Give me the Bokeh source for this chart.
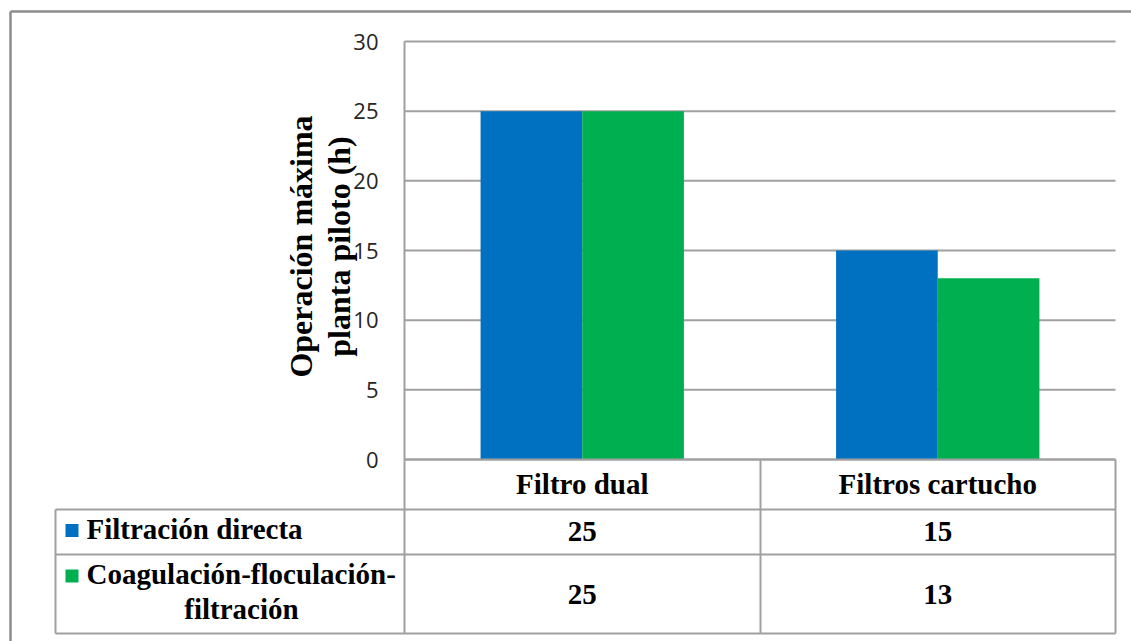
from math import pi
from bokeh.plotting import figure
from bokeh.models import Range1d, LinearAxis, FixedTicker
from bokeh.core.properties import value
from bokeh.embed import file_html
from bokeh.resources import INLINE

# ---------------- data ----------------
categories = ["Filtro dual", "Filtros cartucho"]
series_names = ["Filtración directa", "Coagulación-floculación-filtración"]
filtracion_directa = [25, 15]
coagulacion_floculacion_filtracion = [25, 13]
y_ticks = [0, 5, 10, 15, 20, 25, 30]
y_max = 30
series_colors = ["#0070C0", "#00B050"]
axis_title = ["Operación máxima", "planta piloto (h)"]

series_values = [filtracion_directa, coagulacion_floculacion_filtracion]

# ---------------- layout (page pixels) ----------------
W, H = 1131, 641
PX0, PX1 = 404, 1115          # plot area left/right
PY_TOP, PY_ZERO = 41, 459     # plot area top (y_max) and zero line
TBL_LEFT = 55
TBL_MID = 760
TBL_ROWS = [459, 509, 554, 633]
GRID_COLOR = "#a0a0a0"
SERIF = value("Liberation Serif")
SHIFT = 10                    # text anchor correction (px)

cat_w = (PX1 - PX0) / len(categories)
yscale = (PY_ZERO - PY_TOP) / y_max


def X(px):
    return (px - PX0) / cat_w


def Y(py):
    return (PY_ZERO - py) / yscale


p = figure(width=W, height=H, output_backend="svg", toolbar_location=None, tools="",
           x_range=Range1d(X(0), X(W)), y_range=Range1d(Y(H), Y(0)),
           x_axis_location=None, y_axis_location=None, min_border=0,
           outline_line_color=None, background_fill_color="white", border_fill_color="white")
p.grid.visible = False

# outer chart border (only top/left visible in the crop)
p.segment(x0=[X(10), X(10)], y0=[Y(11), Y(11)], x1=[X(1131), X(10)], y1=[Y(11), Y(641)],
          line_color="#8c8c8c", line_width=2.5)

# y axis at the left edge of the plot area
yax = LinearAxis(fixed_location=0, ticker=FixedTicker(ticks=y_ticks), bounds=(Y(TBL_ROWS[-1]), y_max),
                 axis_line_color=GRID_COLOR, axis_line_width=2,
                 major_tick_line_color=None, minor_tick_line_color=None,
                 major_tick_in=0, major_tick_out=0, major_label_standoff=26,
                 major_label_text_font="Open Sans", major_label_text_font_size="22px",
                 major_label_text_color="#262626")
p.add_layout(yax, "left")

# horizontal gridlines
ncat = len(categories)
p.segment(x0=[0] * len(y_ticks), x1=[ncat] * len(y_ticks), y0=y_ticks, y1=y_ticks,
          line_color=GRID_COLOR, line_width=2)

# bars
bar_w = 0.286
offsets = [-bar_w / 2, bar_w / 2]
for vals, off, col in zip(series_values, offsets, series_colors):
    xs = [i + 0.5 + off for i in range(ncat)]
    p.vbar(x=xs, top=vals, bottom=0, width=bar_w, fill_color=col, line_color=None)

# ---------------- data table ----------------
hx0 = [X(PX0)] + [X(TBL_LEFT)] * 3
hy = [Y(r) for r in TBL_ROWS]
p.segment(x0=hx0, x1=[ncat] * 4, y0=hy, y1=hy, line_color=GRID_COLOR, line_width=2)
p.segment(x0=[X(TBL_LEFT), X(TBL_MID), X(PX1)], x1=[X(TBL_LEFT), X(TBL_MID), X(PX1)],
          y0=[Y(TBL_ROWS[1]), Y(TBL_ROWS[0]), Y(TBL_ROWS[0])],
          y1=[Y(TBL_ROWS[-1])] * 3, line_color=GRID_COLOR, line_width=2)

txt = dict(text_font=SERIF, text_font_style="bold", text_font_size="29px", text_color="black")

# header row: categories
p.text(x=[i + 0.5 for i in range(ncat)], y=[Y(493 - SHIFT)] * ncat, text=categories,
       text_align="center", text_baseline="alphabetic", **txt)

# values
value_baselines = [Y(541 - SHIFT), Y(603.5 - SHIFT)]
for vals, yb in zip(series_values, value_baselines):
    p.text(x=[i + 0.5 for i in range(ncat)], y=[yb] * ncat, text=[str(v) for v in vals],
           text_align="center", text_baseline="alphabetic", **txt)

# legend keys
p.scatter(x=[X(71.5), X(71.5)], y=[Y(530), Y(575.5)], marker="square", size=13,
          fill_color=series_colors, line_color=None)

# row labels
p.text(x=[X(86)], y=[Y(538 - SHIFT)], text=[series_names[0]], text_align="left",
       text_baseline="alphabetic", **txt)
first, rest = series_names[1].rsplit("-", 1)
p.text(x=[X(86)], y=[Y(583 - SHIFT)], text=[first + "-"], text_align="left",
       text_baseline="alphabetic", **txt)
p.text(x=[X(241)], y=[Y(618 - SHIFT)], text=[rest], text_align="center",
       text_baseline="alphabetic", **txt)

# y axis title (two lines, rotated)
p.text(x=[X(312 - 12), X(350 - 12)], y=[Y(246), Y(246)], text=axis_title, angle=pi / 2,
       text_align="center", text_baseline="alphabetic", text_font=SERIF,
       text_font_style="bold", text_font_size="32px", text_color="black")

open("out.html", "w").write(file_html(p, INLINE))
